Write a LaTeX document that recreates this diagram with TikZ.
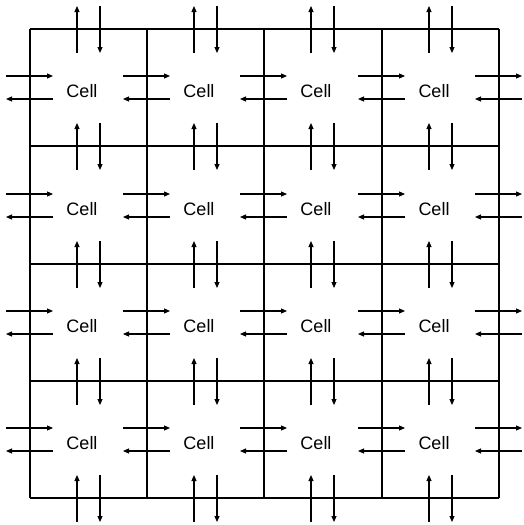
\documentclass[tikz,border=0pt]{standalone}
\usepackage{fontspec}
\setmainfont{Liberation Sans}
\usetikzlibrary{arrows.meta}
\begin{document}
\begin{tikzpicture}[x=1pt,y=-1pt,
  gridline/.style={line width=1.3pt},
  flow/.style={line width=1.1pt,-{Triangle[length=6pt,width=5pt]}},
  lbl/.style={font=\fontsize{18}{21}\selectfont, inner sep=0pt}]
\useasboundingbox (0,0) rectangle (523,525);
\foreach \x in {30,147,264,382,499} \draw[gridline] (\x,29) -- (\x,498);
\foreach \y in {29,146,264,381,498} \draw[gridline] (30,\y) -- (499,\y);
\foreach \i/\cx in {0/88.5,1/205.5,2/322.5,3/440.5}
  \foreach \j/\cy in {0/87.5,1/205.5,2/322.5,3/439.5}
    \node[lbl] (c\i\j) at (\cx-6.5,\cy+4) {Cell};
% vertical arrow pairs crossing horizontal boundaries
\foreach \i/\cx in {0/88.5,1/205.5,2/322.5,3/440.5}
  \foreach \k/\Y in {0/29,1/146,2/264,3/381,4/498} {
    \coordinate (ua\i\k) at (\cx-11.5,\Y+24);
    \coordinate (ub\i\k) at (\cx-11.5,\Y-23);
    \coordinate (da\i\k) at (\cx+11.5,\Y-23);
    \coordinate (db\i\k) at (\cx+11.5,\Y+24);
    \draw[flow] (ua\i\k) -- (ub\i\k);
    \draw[flow] (da\i\k) -- (db\i\k);
  }
% horizontal arrow pairs crossing vertical boundaries
\foreach \j/\cy in {0/87.5,1/205.5,2/322.5,3/439.5}
  \foreach \k/\X in {0/30,1/147,2/264,3/382,4/499} {
    \coordinate (ra\j\k) at (\X-24,\cy-11.5);
    \coordinate (rb\j\k) at (\X+23,\cy-11.5);
    \coordinate (la\j\k) at (\X+23,\cy+11.5);
    \coordinate (lb\j\k) at (\X-24,\cy+11.5);
    \draw[flow] (ra\j\k) -- (rb\j\k);
    \draw[flow] (la\j\k) -- (lb\j\k);
  }
\end{tikzpicture}
\end{document}
